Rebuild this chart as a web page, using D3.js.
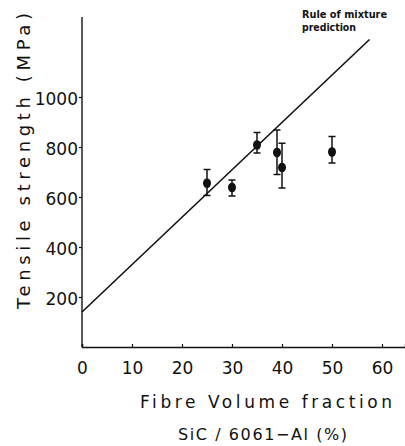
<!DOCTYPE html>
<html>
<head>
<meta charset="utf-8">
<script src="https://cdn.jsdelivr.net/npm/d3@7"></script>
<style>
  body { margin: 0; background: #fff; }
  svg { display: block; }
  text { font-family: "DejaVu Sans", sans-serif; fill: #111; }
</style>
</head>
<body>
<div id="chart"></div>
<script>
// data
var fibre = [25, 30, 35, 39, 40, 50];
var strength = [655, 638, 808, 778, 718, 780];
var errTop = [710, 668, 858, 868, 815, 842];
var errBottom = [606, 604, 776, 690, 636, 736];

// rule of mixture prediction line (end points)
var ruleX = [0, 57.5];
var ruleY = [140, 1230];

var xTicks = [0, 10, 20, 30, 40, 50, 60];
var yTicks = [200, 400, 600, 800, 1000];

var width = 405, height = 446;

var svg = d3.select("#chart").append("svg")
    .attr("width", width)
    .attr("height", height);

var x = d3.scaleLinear().domain([0, 64.6]).range([82, 405]);
var y = d3.scaleLinear().domain([0, 1320]).range([347, 17]);

// axes
var xAxis = d3.axisBottom(x).tickValues(xTicks).tickSize(-3).tickPadding(13).tickFormat(d3.format("d"));
var gx = svg.append("g").attr("transform", "translate(0," + y(0) + ")").call(xAxis);
gx.select(".domain").attr("stroke", "#111").attr("stroke-width", 1.4);
gx.selectAll(".tick line").attr("stroke", "#111").attr("stroke-width", 1.2);
gx.selectAll(".tick text").attr("font-size", 17).attr("dy", "0.85em")
    .style("font-family", "DejaVu Sans");

var yAxis = d3.axisLeft(y).tickValues(yTicks).tickSize(3).tickPadding(1).tickFormat(d3.format("d"));
var gy = svg.append("g").attr("transform", "translate(" + x(0) + ",0)").call(yAxis);
gy.select(".domain").attr("stroke", "#111").attr("stroke-width", 1.4)
    .attr("d", "M0," + y(1320) + "V" + y(0));
gy.selectAll(".tick line").attr("stroke", "#111").attr("stroke-width", 1.2);
gy.selectAll(".tick text").attr("font-size", 17).attr("dy", "0.45em")
    .style("font-family", "DejaVu Sans");

// rule of mixture line
var line = d3.line()
    .x(function(d) { return x(d[0]); })
    .y(function(d) { return y(d[1]); });
svg.append("path")
    .datum(d3.zip(ruleX, ruleY))
    .attr("d", line)
    .attr("fill", "none")
    .attr("stroke", "#111")
    .attr("stroke-width", 1.6);

// error bars + points
var pts = fibre.map(function(f, i) {
    return {x: f, y: strength[i], hi: errTop[i], lo: errBottom[i]};
});
var g = svg.selectAll(".pt").data(pts).enter().append("g").attr("class", "pt");
g.append("line")
    .attr("x1", function(d) { return x(d.x); })
    .attr("x2", function(d) { return x(d.x); })
    .attr("y1", function(d) { return y(d.hi); })
    .attr("y2", function(d) { return y(d.lo); })
    .attr("stroke", "#111").attr("stroke-width", 1.5);
["hi", "lo"].forEach(function(k) {
    g.append("line")
        .attr("x1", function(d) { return x(d.x) - 3.5; })
        .attr("x2", function(d) { return x(d.x) + 3.5; })
        .attr("y1", function(d) { return y(d[k]); })
        .attr("y2", function(d) { return y(d[k]); })
        .attr("stroke", "#111").attr("stroke-width", 1.5);
});
g.append("ellipse")
    .attr("cx", function(d) { return x(d.x); })
    .attr("cy", function(d) { return y(d.y); })
    .attr("rx", 4)
    .attr("ry", 4.8)
    .attr("fill", "#111");

// labels
svg.append("text")
    .attr("x", 302).attr("y", 18)
    .attr("font-size", 10).attr("font-weight", "bold")
    .attr("textLength", 85).attr("lengthAdjust", "spacingAndGlyphs")
    .text("Rule of mixture");
svg.append("text")
    .attr("x", 302).attr("y", 31)
    .attr("font-size", 10).attr("font-weight", "bold")
    .attr("textLength", 54).attr("lengthAdjust", "spacingAndGlyphs")
    .text("prediction");

svg.append("text")
    .attr("x", 140).attr("y", 408)
    .attr("font-size", 17)
    .attr("textLength", 252).attr("lengthAdjust", "spacing")
    .text("Fibre Volume fraction");
svg.append("text")
    .attr("x", 178).attr("y", 440)
    .attr("font-size", 16)
    .attr("textLength", 169).attr("lengthAdjust", "spacing")
    .text("SiC / 6061\u2212Al (%)");

svg.append("text")
    .attr("transform", "translate(30,309) rotate(-90)")
    .attr("font-size", 18)
    .attr("textLength", 296).attr("lengthAdjust", "spacing")
    .text("Tensile strength (MPa)");
</script>
</body>
</html>
